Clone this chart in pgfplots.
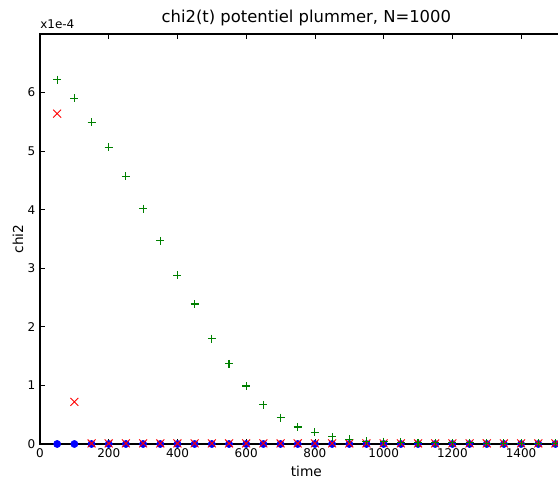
\documentclass[border=0pt]{standalone}
\usepackage{fontspec}
\setmainfont{DejaVu Sans}
\usepackage{pgfplots}
\pgfplotsset{compat=1.18}
\definecolor{mplgreen}{rgb}{0,0.5,0}

% values in units of 1e-4
\begin{document}
\begin{tikzpicture}
\begin{axis}[
    name=ax,
    at={(0pt,0pt)}, anchor=south west,
    scale only axis,
    width=399.5pt, height=307.5pt,
    xmin=0, xmax=1550,
    ymin=0, ymax=7,
    xtick={0,200,...,1400},
    ytick={0,1,...,6},
    tick align=inside,
    major tick length=3.75pt,
    tick style={black, line width=0.6pt},
    axis line style={line width=0.8pt},
    tick label style={font=\fontsize{9}{10}\selectfont},
    /pgf/number format/assume math mode=true,
    /pgf/number format/set thousands separator={},
    every axis title shift=0pt,
    title={chi2(t) potentiel plummer, N=1000},
    title style={at={(axis description cs:0.5,1)}, anchor=center, yshift=12pt,
        font=\fontsize{12.3}{14}\selectfont},
    xlabel={time},
    xlabel style={at={(axis description cs:0.5,-0.066)}, anchor=center,
        font=\fontsize{10.3}{12}\selectfont},
    ylabel={chi2},
    ylabel style={at={(axis description cs:-0.0413,0.5)}, anchor=center,
        font=\fontsize{10.3}{12}\selectfont},
]
    % blue circles
    \addplot[only marks, mark=*, blue, mark size=2.7pt] coordinates {
        (50,0) (100,0) (150,0) (200,0) (250,0) (300,0) (350,0) (400,0)
        (450,0) (500,0) (550,0) (600,0) (650,0) (700,0) (750,0) (800,0)
        (850,0) (900,0) (950,0) (1000,0) (1050,0) (1100,0) (1150,0) (1200,0)
        (1250,0) (1300,0) (1350,0) (1400,0) (1450,0) (1500,0)
    };
    % red crosses
    \addplot[only marks, mark=x, red, mark size=4.2pt, mark options={line width=0.7pt}] coordinates {
        (50,5.64) (100,0.72) (150,0.01) (200,0.01) (250,0.01) (300,0.01) (350,0.01) (400,0.01)
        (450,0.01) (500,0.01) (550,0.01) (600,0.01) (650,0.01) (700,0.01) (750,0.01) (800,0.01)
        (850,0.01) (900,0.01) (950,0.01) (1000,0.01) (1050,0.01) (1100,0.01) (1150,0.01) (1200,0.01)
        (1250,0.01) (1300,0.01) (1350,0.01) (1400,0.01) (1450,0.01) (1500,0.01)
    };
    % green plus
    \addplot[only marks, mark=+, mplgreen, mark size=3pt, mark options={line width=0.8pt}] coordinates {
        (50,6.22) (100,5.90) (150,5.49) (200,5.07) (250,4.57) (300,4.02) (350,3.47) (400,2.88)
        (450,2.39) (500,1.80) (550,1.37) (600,0.99) (650,0.67) (700,0.45) (750,0.29) (800,0.20)
        (850,0.12) (900,0.08) (950,0.05) (1000,0.04) (1050,0.03) (1100,0.02) (1150,0.02) (1200,0.02)
        (1250,0.02) (1300,0.01) (1350,0.01) (1400,0.01) (1450,0.01) (1500,0.01)
    };
\end{axis}
\node[anchor=south west, inner sep=0pt, font=\fontsize{9}{10}\selectfont]
    at ([yshift=3.5pt]ax.north west) {x1e-4};
\pgfresetboundingbox
\useasboundingbox (-30pt,-25.5pt) rectangle (388.5pt,333pt);
\end{tikzpicture}
\end{document}
